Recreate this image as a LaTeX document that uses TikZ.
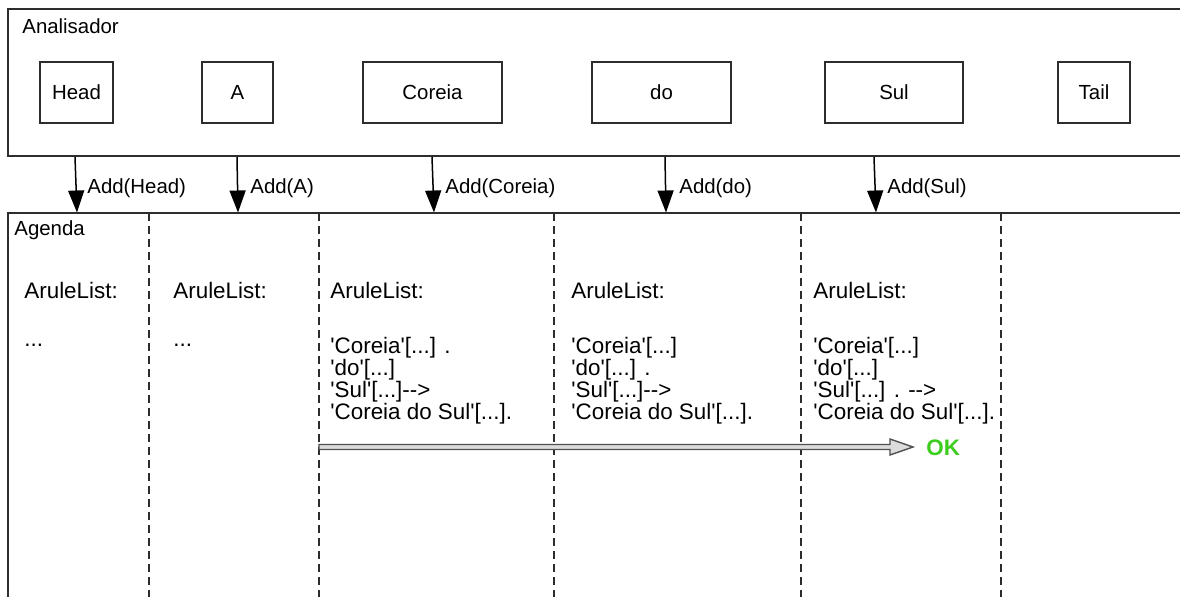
\documentclass[tikz,border=0pt]{standalone}
\usepackage{fontspec}
\newfontfamily\lsans{Liberation Sans}
\usetikzlibrary{arrows.meta}
\definecolor{linecol}{RGB}{45,45,45}
\definecolor{okgreen}{RGB}{60,205,30}
\definecolor{arrfill}{RGB}{220,220,220}
\definecolor{arrline}{RGB}{80,80,80}
\begin{document}
\begin{tikzpicture}[x=0.5pt,y=-0.5pt,
  frame/.style={draw=linecol,line width=1pt},
  wordbox/.style={draw=linecol,line width=0.8pt,inner sep=0pt,minimum height=30.5pt,font=\lsans\fontsize{10.2pt}{12pt}\selectfont},
  lbl/.style={inner sep=0pt,anchor=west,font=\lsans\fontsize{10.2pt}{12pt}\selectfont},
  agt/.style={inner sep=0pt,anchor=base west,font=\lsans\fontsize{11.2pt}{13pt}\selectfont},
  addarrow/.style={draw=black,line width=0.75pt,-{Triangle[length=11pt,width=8pt]}},
  sepline/.style={draw=linecol,line width=0.75pt,dash pattern=on 4pt off 2.5pt},
  bigarrow/.style={draw=arrline,fill=arrfill,line width=0.7pt,line join=miter},
  oktext/.style={inner sep=0pt,anchor=west,text=okgreen,font=\lsans\bfseries\fontsize{11.2pt}{13pt}\selectfont}
]
\useasboundingbox (0,0) rectangle (1180,596);
\clip (0,0) rectangle (1180,596);
\fill[white] (0,0) rectangle (1180,596);

% Analisador
\draw[frame] (8,9) rectangle (1200,156);
\node[lbl] (ana) at (22,26) {Analisador};
\node[wordbox,minimum width=36.5pt] (head) at (76.5,92.5) {Head};
\node[wordbox,minimum width=35.5pt] (a) at (237.5,92.5) {A};
\node[wordbox,minimum width=69.5pt] (coreia) at (432.5,92.5) {Coreia};
\node[wordbox,minimum width=69.5pt] (do) at (661.5,92.5) {do};
\node[wordbox,minimum width=69pt] (sul) at (894,92.5) {Sul};
\node[wordbox,minimum width=36pt] (tail) at (1094,92.5) {Tail};

% connectors
\coordinate (sH) at (75,157);   \coordinate (eH) at (77,212.5);
\coordinate (sA) at (237,157);  \coordinate (eA) at (238,212.5);
\coordinate (sC) at (432,157);  \coordinate (eC) at (434,212.5);
\coordinate (sD) at (665,157);  \coordinate (eD) at (666,212.5);
\coordinate (sS) at (874,157);  \coordinate (eS) at (876,212.5);
\draw[addarrow] (sH) -- (eH);
\draw[addarrow] (sA) -- (eA);
\draw[addarrow] (sC) -- (eC);
\draw[addarrow] (sD) -- (eD);
\draw[addarrow] (sS) -- (eS);
\node[lbl] (lH) at (87,188) {Add(Head)};
\node[lbl] (lA) at (250,188) {Add(A)};
\node[lbl] (lC) at (445,188) {Add(Coreia)};
\node[lbl] (lD) at (679,188) {Add(do)};
\node[lbl] (lS) at (887,188) {Add(Sul)};

% Agenda
\foreach \xx in {149,319,554,801,1001}
  \draw[sepline] (\xx,213) -- (\xx,600);
\draw[frame] (8,213) rectangle (1200,620);
\node[lbl] (ag) at (14,230) {Agenda};

\node[agt] (r1) at (24,298) {AruleList:};
\node[agt] (r2) at (173,298) {AruleList:};
\node[agt] (r3) at (330,298) {AruleList:};
\node[agt] (r4) at (571,298) {AruleList:};
\node[agt] (r5) at (813,298) {AruleList:};

\node[agt] (d1) at (24,346) {...};
\node[agt] (d2) at (173,346) {...};

\node[agt] (c3a) at (330,353) {'Coreia'[...] .};
\node[agt] (c3b) at (330,375) {'do'[...]};
\node[agt] (c3c) at (330,397) {'Sul'[...]-->};
\node[agt] (c3d) at (330,419) {'Coreia do Sul'[...].};

\node[agt] (c4a) at (571,353) {'Coreia'[...]};
\node[agt] (c4b) at (571,375) {'do'[...] .};
\node[agt] (c4c) at (571,397) {'Sul'[...]-->};
\node[agt] (c4d) at (571,419) {'Coreia do Sul'[...].};

\node[agt] (c5a) at (813,353) {'Coreia'[...]};
\node[agt] (c5b) at (813,375) {'do'[...]};
\node[agt] (c5c) at (813,397) {'Sul'[...] . -->};
\node[agt] (c5d) at (813,419) {'Coreia do Sul'[...].};

% progress arrow
\draw[bigarrow] (319,444.5) -- (890,444.5) -- (890,439) -- (913,447) -- (890,455) -- (890,449.5) -- (319,449.5) -- cycle;
\node[oktext] (ok) at (926,448) {OK};
\end{tikzpicture}
\end{document}
